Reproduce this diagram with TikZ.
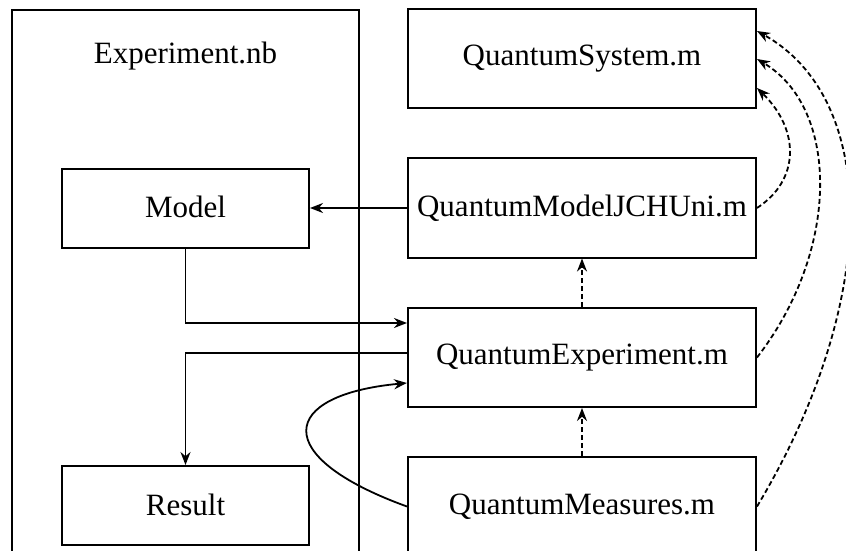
\documentclass[tikz,border=0pt]{standalone}
\usepackage{fontspec}
\setmainfont{Liberation Serif}
\usetikzlibrary{arrows.meta}

\begin{document}
\begin{tikzpicture}[x=0.5pt, y=-0.5pt,
  font=\fontsize{15.5}{18}\selectfont,
  file/.style={draw, line width=1pt, minimum width=174pt, minimum height=49.5pt, inner sep=0pt},
  part/.style={draw, line width=1pt, minimum width=123.5pt, minimum height=39.5pt, inner sep=0pt},
  arr/.style={line width=0.9pt, -{Stealth[length=6.5pt, width=5pt]}},
  dep/.style={arr, dash pattern=on 2.5pt off 1.5pt}]

\useasboundingbox (0,0) rectangle (846,551);
\clip (0,0) rectangle (846,551);

% notebook
\draw[line width=1pt] (12,10) rectangle (359,600);
\node (nbtitle) at (185.5,56) {Experiment.nb};
\node[part] (model)  at (185.5,208) {\raisebox{1pt}{Model}};
\node[part] (result) at (185.5,505.5) {\raisebox{1pt}{Result}};

% packages
\node[file] (qsys)   at (582,59)    {QuantumSystem.m};
\node[file] (qmodel) at (582,208)   {QuantumModelJCHUni.m};
\node[file] (qexp)   at (582,357.5) {QuantumExperiment.m};
\node[file] (qmeas)  at (582,506.5) {QuantumMeasures.m};

\draw[arr] (qmodel.west) -- (model.east);
\draw[arr] (model.south) |- ([yshift=17.25pt]qexp.west);
\draw[arr] ([yshift=2.25pt]qexp.west) -| (result.north);
\draw[arr] (qmeas.west) .. controls +(-138,-50) and +(-128,12) .. ([yshift=-12.75pt]qexp.west);

\draw[dep] (qmeas.north) -- (qexp.south);
\draw[dep] (qexp.north) -- (qmodel.south);

\draw[dep] (qmodel.east) .. controls +(43,-28) and +(43,42) .. ([yshift=-14.5pt]qsys.east);
\draw[dep] (qexp.east) .. controls +(83,-107) and +(83,50) .. (qsys.east);
\draw[dep] (qmeas.east) .. controls +(123,-205) and +(123,69) .. ([yshift=14pt]qsys.east);

\end{tikzpicture}
\end{document}
